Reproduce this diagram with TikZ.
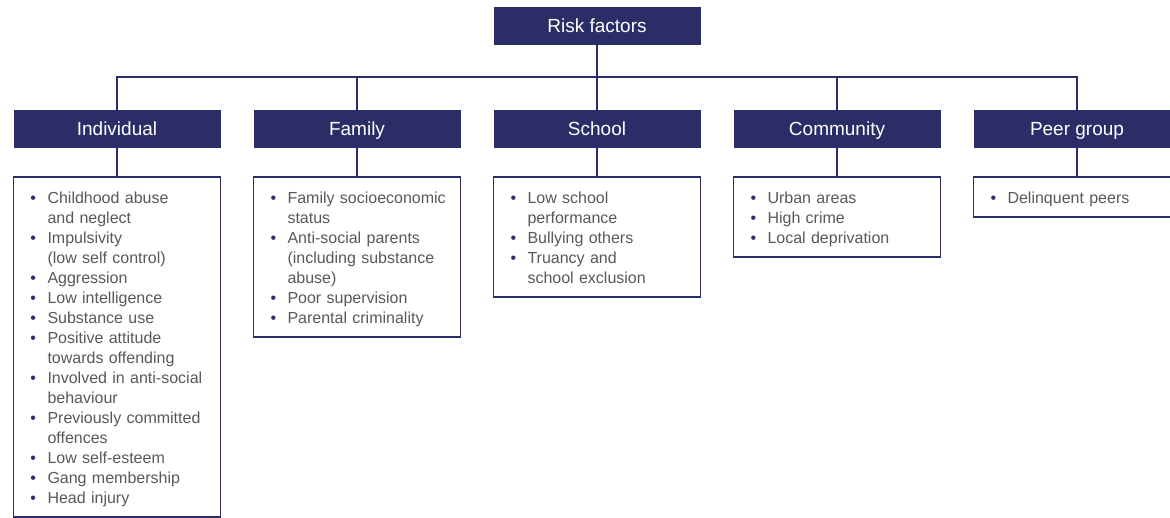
\documentclass[tikz,border=0pt]{standalone}
\usepackage{fontspec}
\setmainfont{Liberation Sans}
\definecolor{rfnavy}{RGB}{43,45,103}
\definecolor{rfgrey}{RGB}{88,88,94}
\usetikzlibrary{positioning}
\newcommand{\rfstrut}{\rule[-3.5pt]{0pt}{20pt}}
\newcommand{\rfitem}[1]{\leftskip=34pt\parskip=0pt\noindent\hskip-17pt\makebox[17pt][l]{\textcolor{rfnavy}{\textbullet}}\rfstrut#1\rfstrut\par}

\begin{document}
\begin{tikzpicture}[
    head/.style={fill=rfnavy, text=white, minimum width=207pt, minimum height=38pt, inner sep=0pt, outer sep=0pt, text height=13.6pt, text depth=0pt, font=\fontsize{19}{22}\selectfont},
    list/.style={draw=rfnavy, line width=1.5pt, fill=white, text width=207pt, inner xsep=0pt, inner ysep=10pt, outer sep=0pt, align=left, text=rfgrey, font=\fontsize{16}{20}\selectfont},
    link/.style={draw=rfnavy, line width=1.5pt}
]
    \useasboundingbox (0,0) rectangle (1170pt,-518pt);
    \node[head] (root) at (597pt,-26pt) {Risk factors};
    \node[head] (ind) at (117pt,-129pt) {Individual};
    \node[head, right=33pt of ind] (fam) {Family};
    \node[head, right=33pt of fam] (sch) {School};
    \node[head, right=33pt of sch] (com) {Community};
    \node[head, right=33pt of com] (peer) {Peer group};
    \coordinate (bar) at (0,-77pt);
    % lists of factors
    \node[list, below=29pt of ind] (indL) {\rfitem{Childhood abuse\\and neglect}\rfitem{Impulsivity\\(low self control)}\rfitem{Aggression}\rfitem{Low intelligence}\rfitem{Substance use}\rfitem{Positive attitude\\towards offending}\rfitem{Involved in anti-social\\behaviour}\rfitem{Previously committed\\offences}\rfitem{Low self-esteem}\rfitem{Gang membership}\rfitem{Head injury}};
    \node[list, below=29pt of fam] (famL) {\rfitem{Family socioeconomic\\status}\rfitem{Anti-social parents\\(including substance\\abuse)}\rfitem{Poor supervision}\rfitem{Parental criminality}};
    \node[list, below=29pt of sch] (schL) {\rfitem{Low school\\performance}\rfitem{Bullying others}\rfitem{Truancy and\\school exclusion}};
    \node[list, below=29pt of com] (comL) {\rfitem{Urban areas}\rfitem{High crime}\rfitem{Local deprivation}};
    \node[list, below=29pt of peer] (peerL) {\rfitem{Delinquent peers}};
    % connectors
    \draw[link] (root.south) -- (root.south |- bar);
    \draw[link] (ind.north) |- (bar -| peer.north) -- (peer.north);
    \foreach \nm in {fam,sch,com}
        \draw[link] (\nm.north) -- (\nm.north |- bar);
    \foreach \nm in {ind,fam,sch,com,peer}
        \draw[link] (\nm.south) -- (\nm L.north);
\end{tikzpicture}
\end{document}
